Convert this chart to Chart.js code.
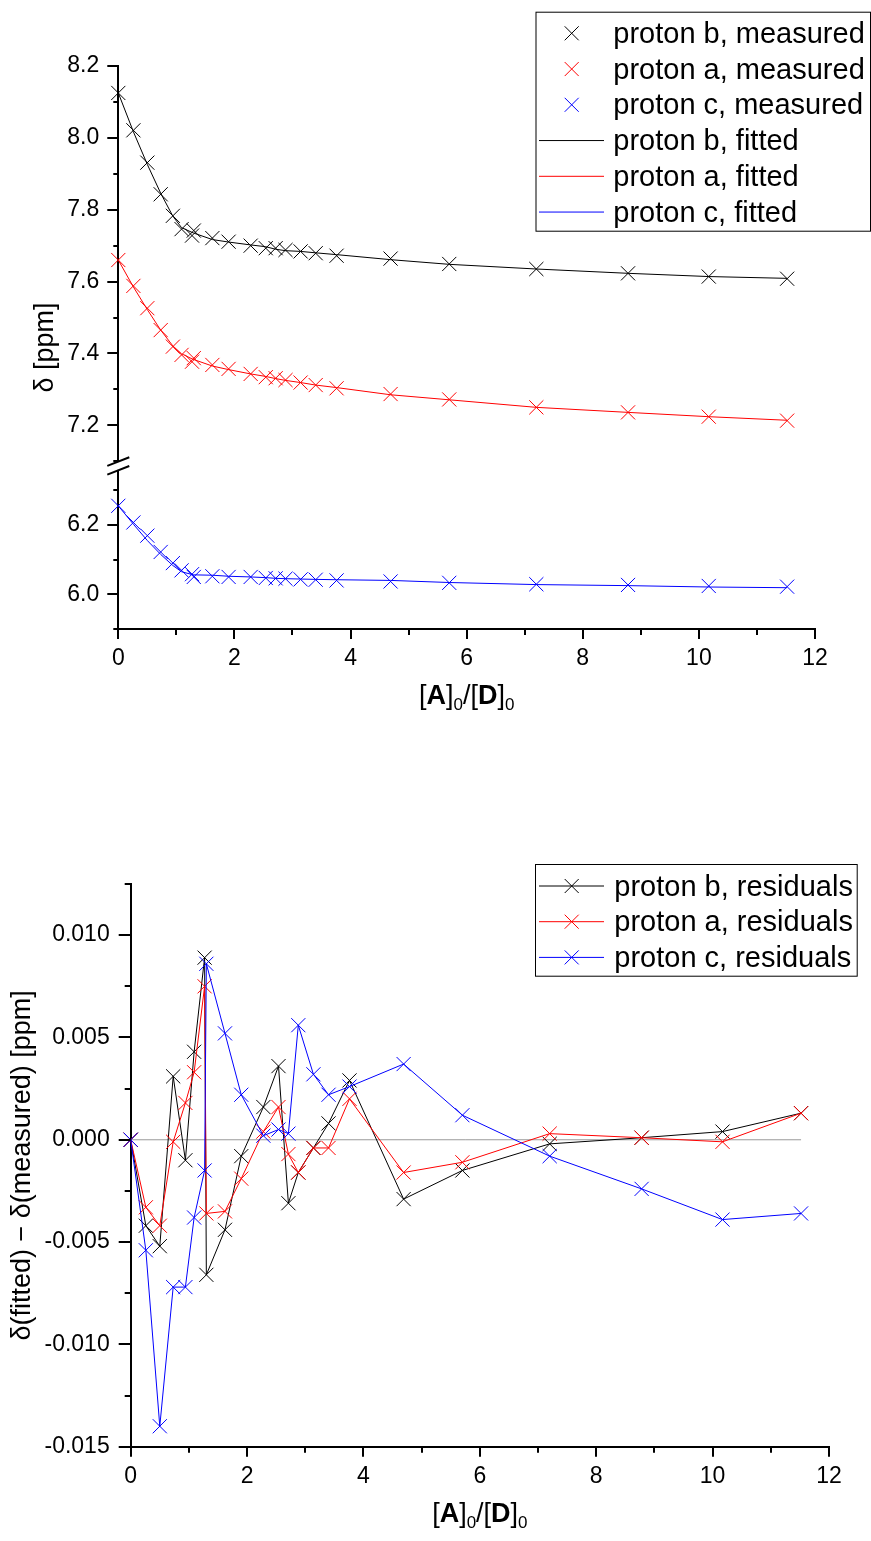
<!DOCTYPE html>
<html>
<head>
<meta charset="utf-8">
<title>Titration shifts and residuals</title>
<script src="https://cdn.jsdelivr.net/npm/chart.js@4/dist/chart.umd.min.js"></script>
<style>
  html, body { margin: 0; padding: 0; background: #fff; }
  #wrap { position: relative; width: 871px; height: 1541px; }
  canvas { position: absolute; left: 0; }
  #shifts { top: 0; }
  #resid { top: 740px; }
</style>
</head>
<body>
<div id="wrap">
  <canvas id="shifts" width="871" height="740"></canvas>
  <canvas id="resid" width="871" height="801"></canvas>
</div>
<script>
"use strict";

// [A]0/[D]0 of every titration point
const ratio = [0, 0.26, 0.50, 0.73, 0.94, 1.09, 1.27, 1.30, 1.62, 1.90, 2.28, 2.54, 2.71, 2.88, 3.14, 3.40, 3.76, 4.69, 5.70, 7.20, 8.78, 10.17, 11.52];

// chemical shifts, ppm
const measB = [8.125, 8.021, 7.931, 7.843, 7.783, 7.746, 7.728, 7.742, 7.721, 7.711, 7.700, 7.693, 7.693, 7.688, 7.684, 7.679, 7.672, 7.664, 7.649, 7.635, 7.623, 7.614, 7.608];
const measA = [7.660, 7.588, 7.526, 7.465, 7.419, 7.396, 7.377, 7.387, 7.368, 7.357, 7.343, 7.334, 7.331, 7.326, 7.319, 7.312, 7.303, 7.287, 7.272, 7.250, 7.236, 7.224, 7.213];
const measC = [6.255, 6.207, 6.169, 6.122, 6.090, 6.069, 6.058, 6.050, 6.052, 6.050, 6.050, 6.047, 6.046, 6.045, 6.043, 6.042, 6.040, 6.037, 6.033, 6.029, 6.027, 6.024, 6.022];

const fitB = [8.125, 8.017, 7.926, 7.846, 7.782, 7.750, 7.737, 7.735, 7.717, 7.710, 7.702, 7.697, 7.690, 7.686, 7.684, 7.680, 7.675, 7.661, 7.648, 7.635, 7.623, 7.614, 7.609];
const fitA = [7.660, 7.585, 7.522, 7.465, 7.421, 7.399, 7.385, 7.383, 7.365, 7.355, 7.343, 7.336, 7.330, 7.325, 7.319, 7.312, 7.305, 7.285, 7.271, 7.250, 7.236, 7.224, 7.214];
const fitC = [6.255, 6.202, 6.155, 6.115, 6.083, 6.065, 6.057, 6.056, 6.055, 6.052, 6.050, 6.048, 6.046, 6.045, 6.044, 6.043, 6.042, 6.040, 6.034, 6.028, 6.025, 6.021, 6.019];

// fitted - measured, ppm
const resB = [0, -0.0042, -0.0052, 0.0031, -0.0010, 0.0043, 0.0089, -0.0066, -0.0044, -0.0008, 0.0016, 0.0036, -0.0031, -0.0016, -0.0004, 0.0008, 0.0029, -0.0029, -0.0015, -0.0002, 0.0001, 0.0004, 0.0013];
const resA = [0, -0.0033, -0.0042, -0.0001, 0.0018, 0.0033, 0.0075, -0.0036, -0.0035, -0.0019, 0.0004, 0.0016, -0.0007, -0.0016, -0.0004, -0.0004, 0.0020, -0.0016, -0.0011, 0.0003, 0.0001, -0.0001, 0.0013];
const resC = [0, -0.0054, -0.0140, -0.0072, -0.0072, -0.0038, -0.0015, 0.0086, 0.0052, 0.0022, 0.0002, 0.0005, 0.0003, 0.0056, 0.0032, 0.0022, 0.0026, 0.0037, 0.0012, -0.0008, -0.0024, -0.0039, -0.0036];

// ticks
const xMajor = [0, 2, 4, 6, 8, 10, 12];
const xMinor = [1, 3, 5, 7, 9, 11];
const upMajor = [7.2, 7.4, 7.6, 7.8, 8.0, 8.2];
const upMinor = [7.1, 7.3, 7.5, 7.7, 7.9, 8.1];
const lowMajor = [6.0, 6.2];
const lowMinor = [5.9, 6.1, 6.3];
const resMajor = [-0.015, -0.010, -0.005, 0, 0.005, 0.010];
const resMinor = [-0.0125, -0.0075, -0.0025, 0.0025, 0.0075, 0.0125];

const FONT = '"Liberation Sans", Arial, sans-serif';
Chart.defaults.font.family = FONT;
Chart.defaults.color = '#000';

const pts = (ys) => ratio.map((x, i) => ({ x: x, y: ys[i] }));
const setTicks = (vals) => (s) => { s.ticks = vals.map(v => ({ value: v })); };

// tick marks drawn by hand so minor ticks can be shorter
const tickMarks = {
  id: 'tickMarks',
  afterDraw(chart, args, opts) {
    const ctx = chart.ctx;
    ctx.save();
    ctx.strokeStyle = '#000';
    ctx.lineWidth = 2;
    ctx.beginPath();
    for (const id in opts.axes) {
      const scale = chart.scales[id];
      const spec = opts.axes[id];
      const marks = spec.major.map(v => [v, spec.len[0]]).concat(spec.minor.map(v => [v, spec.len[1]]));
      for (const [v, len] of marks) {
        const p = Math.round(scale.getPixelForValue(v));
        if (scale.isHorizontal()) {
          ctx.moveTo(p, scale.top); ctx.lineTo(p, scale.top + len);
        } else {
          ctx.moveTo(scale.right, p); ctx.lineTo(scale.right - len, p);
        }
      }
    }
    ctx.stroke();
    ctx.restore();
  }
};

// the // mark between the two y ranges
const axisBreak = {
  id: 'axisBreak',
  afterDraw(chart) {
    const ctx = chart.ctx;
    const x = chart.chartArea.left;
    const y = chart.scales.yUp.bottom;
    ctx.save();
    ctx.fillStyle = '#fff';
    ctx.fillRect(x - 3, y - 4, 6, 8);
    ctx.strokeStyle = '#000';
    ctx.lineWidth = 2;
    ctx.beginPath();
    for (const dy of [-4.4, 4.4]) {
      ctx.moveTo(x - 11, y + dy + 4.3);
      ctx.lineTo(x + 11, y + dy - 4.3);
    }
    ctx.stroke();
    ctx.restore();
  }
};

// framed legend inside the plot
const boxLegend = {
  id: 'boxLegend',
  afterDraw(chart, args, o) {
    const ctx = chart.ctx;
    ctx.save();
    ctx.fillStyle = '#fff';
    ctx.fillRect(o.left, o.top, o.right - o.left, o.bottom - o.top);
    ctx.strokeStyle = '#000';
    ctx.lineWidth = 1;
    ctx.strokeRect(o.left + 0.5, o.top + 0.5, o.right - o.left - 1, o.bottom - o.top - 1);
    ctx.font = '29px ' + FONT;
    ctx.textBaseline = 'alphabetic';
    chart.data.datasets.filter(d => d.label).forEach((d, i) => {
      const cy = o.firstRow + i * o.rowGap;
      ctx.strokeStyle = d.borderColor;
      ctx.lineWidth = 1;
      ctx.beginPath();
      if (d.showLine) {
        ctx.moveTo(539, cy); ctx.lineTo(604, cy);
      }
      if (d.pointRadius > 0) {
        ctx.moveTo(571.7 - 7, cy - 7); ctx.lineTo(571.7 + 7, cy + 7);
        ctx.moveTo(571.7 - 7, cy + 7); ctx.lineTo(571.7 + 7, cy - 7);
      }
      ctx.stroke();
      ctx.fillStyle = '#000';
      ctx.fillText(d.label, o.textX, cy + 9.5);
    });
    ctx.restore();
  }
};

// axis titles: rotated y title and [A]0/[D]0 with bold letters and subscripts
const axisTitles = {
  id: 'axisTitles',
  afterDraw(chart, args, o) {
    const ctx = chart.ctx;
    const area = chart.chartArea;
    ctx.save();
    ctx.fillStyle = '#000';

    ctx.save();
    ctx.translate(o.yX, (area.top + area.bottom) / 2);
    ctx.rotate(-Math.PI / 2);
    ctx.font = '27px ' + FONT;
    ctx.textAlign = 'center';
    ctx.textBaseline = 'middle';
    ctx.fillText(o.yText, 0, 0);
    ctx.restore();

    const parts = [['[', 0], ['A', 1], [']', 0], ['0', 2], ['/[', 0], ['D', 1], [']', 0], ['0', 2]];
    const fontOf = (k) => k === 1 ? 'bold 27px ' + FONT : (k === 2 ? '17px ' + FONT : '27px ' + FONT);
    let total = 0;
    for (const [t, k] of parts) { ctx.font = fontOf(k); total += ctx.measureText(t).width; }
    let x = (area.left + area.right) / 2 - total / 2;
    ctx.textBaseline = 'alphabetic';
    for (const [t, k] of parts) {
      ctx.font = fontOf(k);
      ctx.fillText(t, x, o.xBase + (k === 2 ? 6 : 0));
      x += ctx.measureText(t).width;
    }
    ctx.restore();
  }
};

const marker = (label, color, ys, axis, order) => ({
  label: label, data: pts(ys), yAxisID: axis, order: order,
  showLine: false, borderColor: color, backgroundColor: color,
  pointStyle: 'crossRot', pointRadius: 10, pointBorderWidth: 1, clip: false
});
const curve = (label, color, ys, axis, order) => ({
  label: label, data: pts(ys), yAxisID: axis, order: order,
  showLine: true, borderColor: color, borderWidth: 1, pointRadius: 0, tension: 0, clip: false
});

const tickFont = { size: 23 };

new Chart(document.getElementById('shifts'), {
  type: 'scatter',
  data: {
    datasets: [
      marker('proton b, measured', '#000000', measB, 'yUp', 3),
      marker('proton a, measured', '#ff0000', measA, 'yUp', 2),
      marker('proton c, measured', '#0000ff', measC, 'yLow', 1),
      curve('proton b, fitted', '#000000', fitB, 'yUp', 6),
      curve('proton a, fitted', '#ff0000', fitA, 'yUp', 5),
      curve('proton c, fitted', '#0000ff', fitC, 'yLow', 4)
    ]
  },
  options: {
    responsive: false,
    animation: false,
    events: [],
    layout: { padding: { top: 66, right: 56, left: 0, bottom: 0 } },
    plugins: {
      legend: { display: false },
      tooltip: { enabled: false },
      tickMarks: { axes: {
        x: { major: xMajor, minor: xMinor, len: [10, 6] },
        yUp: { major: upMajor, minor: upMinor, len: [11, 5] },
        yLow: { major: lowMajor, minor: lowMinor, len: [11, 5] }
      } },
      boxLegend: { left: 535.5, top: 11.7, right: 871, bottom: 231.7, firstRow: 33.3, rowGap: 35.75, textX: 613.3 },
      axisTitles: { yX: 46, yText: 'δ [ppm]', xBase: 704 }
    },
    scales: {
      x: {
        type: 'linear', min: 0, max: 12,
        afterFit: (s) => { s.height = 111; },
        afterBuildTicks: setTicks(xMajor),
        grid: { display: false, tickLength: 10 },
        border: { color: '#000', width: 2 },
        ticks: { padding: 6, font: tickFont, callback: (v) => String(v) }
      },
      yUp: {
        type: 'linear', position: 'left', stack: 'shift', stackWeight: 399.7, weight: 1,
        min: 7.087, max: 8.2,
        afterFit: (s) => { s.width = 118.3; },
        afterBuildTicks: setTicks(upMajor),
        grid: { display: false, tickLength: 11 },
        border: { color: '#000', width: 2 },
        ticks: { padding: 8, font: tickFont, callback: (v) => v.toFixed(1) }
      },
      yLow: {
        type: 'linear', position: 'left', stack: 'shift', stackWeight: 163, weight: 0,
        min: 5.9, max: 6.37,
        afterFit: (s) => { s.width = 118.3; },
        afterBuildTicks: setTicks(lowMajor),
        grid: { display: false, tickLength: 11 },
        border: { color: '#000', width: 2 },
        ticks: { padding: 8, font: tickFont, callback: (v) => v.toFixed(1) }
      }
    }
  },
  plugins: [tickMarks, axisBreak, boxLegend, axisTitles]
});

const residual = (label, color, ys, order) => ({
  label: label, data: pts(ys), order: order,
  showLine: true, borderColor: color, backgroundColor: color, borderWidth: 1,
  pointStyle: 'crossRot', pointRadius: 10, pointBorderWidth: 1, tension: 0, clip: false
});

new Chart(document.getElementById('resid'), {
  type: 'scatter',
  data: {
    datasets: [
      residual('proton b, residuals', '#000000', resB, 3),
      residual('proton a, residuals', '#ff0000', resA, 2),
      residual('proton c, residuals', '#0000ff', resC, 1),
      {
        data: [{ x: ratio[0], y: 0 }, { x: ratio[ratio.length - 1], y: 0 }], order: 10,
        showLine: true, borderColor: '#9a9a9a', borderWidth: 1, pointRadius: 0
      }
    ]
  },
  options: {
    responsive: false,
    animation: false,
    events: [],
    layout: { padding: { top: 144, right: 42, left: 0, bottom: 0 } },
    plugins: {
      legend: { display: false },
      tooltip: { enabled: false },
      tickMarks: { axes: {
        x: { major: xMajor, minor: xMinor, len: [10, 6] },
        y: { major: resMajor, minor: resMinor, len: [12, 6] }
      } },
      boxLegend: { left: 535, top: 124, right: 857.7, bottom: 236.7, firstRow: 146, rowGap: 35.7, textX: 614.3 },
      axisTitles: { yX: 23, yText: 'δ(fitted) − δ(measured) [ppm]', xBase: 782 }
    },
    scales: {
      x: {
        type: 'linear', min: 0, max: 12,
        afterFit: (s) => { s.height = 94.3; },
        afterBuildTicks: setTicks(xMajor),
        grid: { display: false, tickLength: 10 },
        border: { color: '#000', width: 2 },
        ticks: { padding: 6, font: tickFont, callback: (v) => String(v) }
      },
      y: {
        type: 'linear', min: -0.015, max: 0.0125,
        afterFit: (s) => { s.width = 130.7; },
        afterBuildTicks: setTicks(resMajor),
        grid: { display: false, tickLength: 12 },
        border: { color: '#000', width: 2 },
        ticks: { padding: 9, font: tickFont, callback: (v) => v.toFixed(3) }
      }
    }
  },
  plugins: [tickMarks, boxLegend, axisTitles]
});
</script>
</body>
</html>
